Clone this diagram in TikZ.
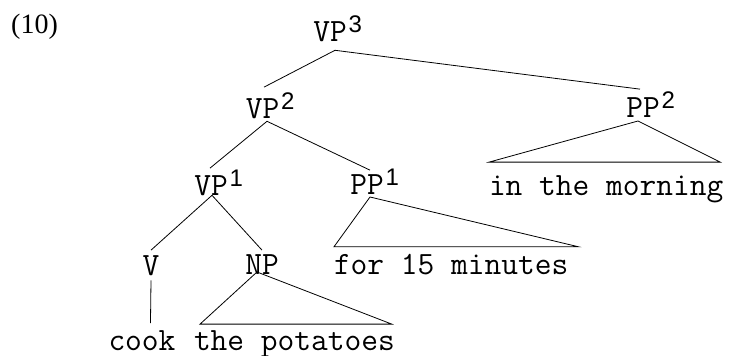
\documentclass[tikz,border=0pt]{standalone}
\usepackage{fontspec}
\newfontfamily\supfont{Liberation Sans}
\newfontfamily\exfont{Liberation Serif}
\usetikzlibrary{calc}
\newcommand\supnum[1]{\rlap{\kern2pt\smash{\raisebox{9pt}{\supfont\fontsize{24}{28}\selectfont #1}}}}
\tikzset{
  cat/.style={inner sep=0pt, outer sep=0pt, anchor=base, font=\fontsize{32.5}{39}\selectfont\ttfamily},
  words/.style={inner sep=0pt, outer sep=0pt, anchor=base west, font=\fontsize{32.5}{39}\selectfont\ttfamily},
  branch/.style={line width=0.8pt, black}
}
\begin{document}
\begin{tikzpicture}[x=1pt,y=-1pt]
\fill[white] (0,0) rectangle (731,356);
\useasboundingbox (0,0) rectangle (731,356);
% example number
\node[inner sep=0pt, anchor=base west, font=\exfont\fontsize{28}{33}\selectfont] (ex) at (11,34) {(10)};
% category labels
\node[cat] (vp3) at (330,41) {VP\supnum{3}};
\node[cat] (vp2) at (262.5,118) {VP\supnum{2}};
\node[cat] (pp2) at (643,117) {PP\supnum{2}};
\node[cat] (vp1) at (211,195) {VP\supnum{1}};
\node[cat] (pp1) at (367,194) {PP\supnum{1}};
\node[cat] (v) at (151,275) {V};
\node[cat] (np) at (262,274) {NP};
% words
\node[words] (cook) at (108.5,350) {cook};
\node[words] (pot) at (194,350) {the potatoes};
\node[words] (for) at (334,274) {for 15 minutes};
\node[words] (morn) at (489,195) {in the morning};
% branches
\draw[branch] ($(vp3.south)+(5,9)$) -- ($(vp2.north)+(1.5,-11)$);
\draw[branch] ($(vp3.south)+(5,9)$) -- ($(pp2.north)+(-3,-8)$);
\draw[branch] ($(vp2.south)+(4.5,3)$) -- ($(vp1.north)+(-1,-7)$);
\draw[branch] ($(vp2.south)+(4.5,3)$) -- ($(pp1.north)+(3,-4)$);
\draw[branch] ($(vp1.south)+(1,0)$) -- ($(v.north)+(0,-5)$);
\draw[branch] ($(vp1.south)+(1,0)$) -- ($(np.north)+(0,-4)$);
\draw[branch] ($(v.south)+(0,5)$) -- ($(cook.north)+(8.5,-7)$);
% triangles
\draw[branch] ($(np.south)+(-5,-2)$) -- ($(pot.north west)+(6,-6)$) -- ($(pot.north east)+(-3,-6)$) -- cycle;
\draw[branch] ($(pp1.south)+(3,3)$) -- ($(for.north west)+(0,-7)$) -- ($(for.north east)+(10,-7)$) -- cycle;
\draw[branch] ($(pp2.south)+(-5,4)$) -- ($(morn.north west)+(0,-13)$) -- ($(morn.north east)+(-3,-13)$) -- cycle;
\end{tikzpicture}
\end{document}
